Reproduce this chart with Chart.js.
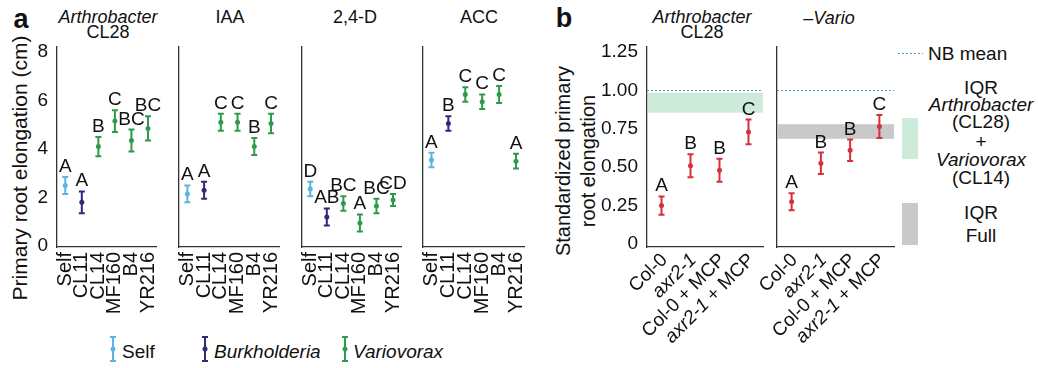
<!DOCTYPE html>
<html>
<head>
<meta charset="utf-8">
<script src="https://cdn.jsdelivr.net/npm/chart.js@4.4.1/dist/chart.umd.min.js"></script>
<style>
  body { margin: 0; background: #fff; width: 1038px; height: 368px; position: relative; overflow: hidden;
         font-family: "Liberation Sans", Arial, sans-serif; color: #111; }
  .box { position: absolute; top: 0; height: 368px; }
  .t { position: absolute; white-space: nowrap; transform: translate(-50%, -50%); line-height: 1; font-size: 18px; }
  .l { position: absolute; white-space: nowrap; transform: translate(0, -50%); line-height: 1; font-size: 19px; }
  .i { font-style: italic; }
  .tag { font-weight: bold; font-size: 27px; }
  .rot { position: absolute; white-space: nowrap; text-align: center; transform: translate(-50%, -50%) rotate(-90deg); }
  svg { position: absolute; overflow: visible; }
</style>
</head>
<body>

<div class="t tag" style="left:21px;top:19px">a</div>
<div class="t tag" style="left:564px;top:18px">b</div>

<div class="t i" style="left:108px;top:17px">Arthrobacter</div>
<div class="t" style="left:108px;top:32px">CL28</div>
<div class="t" style="left:230px;top:17px">IAA</div>
<div class="t" style="left:355px;top:17px">2,4-D</div>
<div class="t" style="left:479px;top:17px">ACC</div>
<div class="t i" style="left:702px;top:17px">Arthrobacter</div>
<div class="t" style="left:702px;top:32px">CL28</div>
<div class="t i" style="left:829px;top:18px">–Vario</div>

<div class="rot" style="left:20px;top:168px;font-size:21px">Primary root elongation (cm)</div>
<div class="rot" style="left:576px;top:161px;font-size:20px;line-height:25px">Standardized primary<br>root elongation</div>

<!-- legend, panel a -->
<svg style="left:0;top:0" width="1" height="1" id="legA"></svg>
<div class="l" style="left:122px;top:351px">Self</div>
<div class="l i" style="left:214px;top:351px">Burkholderia</div>
<div class="l i" style="left:353px;top:351px">Variovorax</div>

<!-- legend, panel b -->
<svg style="left:0;top:0" width="1" height="1">
  <line x1="898" y1="53.5" x2="923" y2="53.5" stroke="#4b9fd0" stroke-width="1" stroke-dasharray="2,2"/>
  <rect x="902" y="118" width="16" height="41" fill="#cdeadb"/>
  <rect x="902" y="203" width="16" height="42" fill="#c9c9c9"/>
</svg>
<div class="l" style="left:928px;top:53px">NB mean</div>
<div class="t" style="left:981px;top:87px;font-size:19px">IQR</div>
<div class="t i" style="left:981px;top:104px;font-size:19px">Arthrobacter</div>
<div class="t" style="left:981px;top:121px;font-size:19px">(CL28)</div>
<div class="t" style="left:981px;top:141px;font-size:19px">+</div>
<div class="t i" style="left:981px;top:159px;font-size:19px">Variovorax</div>
<div class="t" style="left:981px;top:177px;font-size:19px">(CL14)</div>
<div class="t" style="left:981px;top:212px;font-size:19px">IQR</div>
<div class="t" style="left:981px;top:235px;font-size:19px">Full</div>

<script>
// ---- panel a: primary root elongation (cm), mean +/- error per strain ----
const strains = ['Self', 'CL11', 'CL14', 'MF160', 'B4', 'YR216'];
const groups = ['Self', 'Burkholderia', 'Variovorax'];
const groupColors = ['#5bb4df', '#2e2a7f', '#2f9a4d'];
const strainGroup = [0, 1, 2, 2, 2, 2];

const meanCL28 = [2.5, 1.8, 4.1, 5.15, 4.35, 4.85];
const errCL28 = [0.35, 0.45, 0.4, 0.45, 0.45, 0.5];
const lettersCL28 = ['A', 'A', 'B', 'C', 'BC', 'BC'];

const meanIAA = [2.15, 2.3, 5.1, 5.1, 4.1, 5.05];
const errIAA = [0.35, 0.35, 0.35, 0.35, 0.35, 0.4];
const lettersIAA = ['A', 'A', 'C', 'C', 'B', 'C'];

const mean24D = [2.35, 1.2, 1.75, 0.95, 1.65, 1.9];
const err24D = [0.3, 0.35, 0.3, 0.35, 0.3, 0.25];
const letters24D = ['D', 'AB', 'BC', 'A', 'BC', 'CD'];

const meanACC = [3.55, 5.05, 6.25, 5.95, 6.25, 3.5];
const errACC = [0.3, 0.3, 0.3, 0.3, 0.35, 0.3];
const lettersACC = ['A', 'B', 'C', 'C', 'C', 'A'];

const elongTicks = [0, 2, 4, 6, 8];

// ---- panel b: standardized elongation ----
const genotypes = ['Col-0', 'axr2-1', 'Col-0 + MCP', 'axr2-1 + MCP'];
const meanStdCL28 = [0.25, 0.51, 0.48, 0.73];
const errStdCL28 = [0.06, 0.075, 0.075, 0.08];
const lettersStdCL28 = ['A', 'B', 'B', 'C'];
const meanStdVario = [0.275, 0.525, 0.61, 0.765];
const errStdVario = [0.055, 0.07, 0.07, 0.075];
const lettersStdVario = ['A', 'B', 'B', 'C'];
const stdTicks = [0, 0.25, 0.5, 0.75, 1, 1.25];
const stdTickLabels = ['0', '0.25', '0.50', '0.75', '1.00', '1.25'];
const nbMean = 1.0;
const iqrCL28CL14 = [0.855, 0.985];
const iqrFull = [0.685, 0.78];

const FONT = '"Liberation Sans", Arial, sans-serif';
Chart.defaults.font.family = FONT;
Chart.defaults.color = '#111';

const TOP = 47, BOTTOM = 247, PAD = 12;

// error bars, significance letters, reference bands and slanted labels
const marks = {
  id: 'marks',
  beforeDatasetsDraw(chart, args, o) {
    const { ctx, chartArea: a, scales: { y } } = chart;
    ctx.save();
    (o.bands || []).forEach(b => {
      const y1 = y.getPixelForValue(b.range[1]), y0 = y.getPixelForValue(b.range[0]);
      ctx.fillStyle = b.color;
      ctx.fillRect(a.left + 1, y1, a.right - a.left - 1, y0 - y1);
    });
    if (o.nb != null) {
      const yy = Math.round(y.getPixelForValue(o.nb)) + 0.5;
      ctx.strokeStyle = '#4b9fd0';
      ctx.lineWidth = 1;
      ctx.setLineDash([2, 2]);
      ctx.beginPath(); ctx.moveTo(a.left, yy); ctx.lineTo(a.right, yy); ctx.stroke();
    }
    ctx.restore();
  },
  afterDatasetsDraw(chart, args, o) {
    const { ctx, scales: { y } } = chart;
    const d = chart.data.datasets[0].data;
    ctx.save();
    chart.getDatasetMeta(0).data.forEach((pt, i) => {
      const yt = y.getPixelForValue(d[i] + o.err[i]);
      const yb = y.getPixelForValue(d[i] - o.err[i]);
      ctx.strokeStyle = o.colors[i];
      ctx.lineWidth = 2;
      ctx.beginPath();
      ctx.moveTo(pt.x, yt); ctx.lineTo(pt.x, yb);
      ctx.moveTo(pt.x - 3, yt); ctx.lineTo(pt.x + 3, yt);
      ctx.moveTo(pt.x - 3, yb); ctx.lineTo(pt.x + 3, yb);
      ctx.stroke();
      ctx.fillStyle = '#111';
      ctx.font = '19px ' + FONT;
      ctx.textAlign = 'center';
      ctx.textBaseline = 'alphabetic';
      ctx.fillText(o.letters[i], pt.x, yt - 5);
    });
    ctx.restore();
  },
  afterDraw(chart, args, o) {
    if (!o.slanted) return;
    const { ctx, chartArea: a, scales: { x } } = chart;
    chart.data.labels.forEach((lab, i) => {
      const parts = lab.startsWith('axr2-1')
        ? [{ t: 'axr2-1', it: true }, { t: lab.slice(6), it: false }]
        : [{ t: lab, it: false }];
      let total = 0;
      parts.forEach(p => {
        ctx.font = (p.it ? 'italic ' : '') + '19px ' + FONT;
        p.w = ctx.measureText(p.t).width;
        total += p.w;
      });
      ctx.save();
      ctx.translate(x.getPixelForValue(i) + 3, a.bottom + 10);
      ctx.rotate(-Math.PI / 4);
      ctx.fillStyle = '#111';
      ctx.textBaseline = 'middle';
      ctx.textAlign = 'left';
      let cx = -total;
      parts.forEach(p => {
        ctx.font = (p.it ? 'italic ' : '') + '19px ' + FONT;
        ctx.fillText(p.t, cx, 0);
        cx += p.w;
      });
      ctx.restore();
    });
  }
};

function panel(plotL, plotR, cfg) {
  const padL = cfg.padL || PAD;
  const box = document.createElement('div');
  box.className = 'box';
  box.style.left = (plotL - cfg.yw - padL) + 'px';
  box.style.width = (plotR - plotL + cfg.yw + padL + PAD) + 'px';
  const cv = document.createElement('canvas');
  box.appendChild(cv);
  document.body.appendChild(box);
  new Chart(cv, {
    type: 'line',
    data: {
      labels: cfg.labels,
      datasets: [{
        data: cfg.mean, showLine: false,
        pointRadius: 2.5, pointHoverRadius: 2.5, pointBorderWidth: 0,
        pointBackgroundColor: cfg.colors
      }]
    },
    options: {
      responsive: true, maintainAspectRatio: false, animation: false, events: [],
      layout: { padding: { top: TOP, left: padL, right: PAD, bottom: 0 } },
      plugins: {
        legend: { display: false }, tooltip: { enabled: false },
        marks: { err: cfg.err, letters: cfg.letters, colors: cfg.colors, bands: cfg.bands, nb: cfg.nb, slanted: cfg.slanted }
      },
      scales: {
        x: {
          type: 'category', offset: true,
          grid: { display: false, drawTicks: false },
          border: { color: '#333', width: 1.3 },
          ticks: { display: !cfg.slanted, autoSkip: false, minRotation: 90, maxRotation: 90, padding: 5, font: { size: 20 } },
          afterFit(s) { s.height = 368 - BOTTOM; }
        },
        y: {
          min: cfg.min, max: cfg.max,
          grid: { display: false, drawTicks: false },
          border: { color: '#333', width: 1.3 },
          afterBuildTicks(s) { s.ticks = cfg.ticks.map(v => ({ value: v })); },
          ticks: { display: cfg.showY, padding: 9, font: { size: 19 }, callback: (v, i) => cfg.tickLabels[i] },
          afterFit(s) { s.width = cfg.yw; }
        }
      }
    },
    plugins: [marks]
  });
}

const strainColors = strainGroup.map(g => groupColors[g]);
const aBase = { labels: strains, colors: strainColors, min: -0.04, max: 8.206, ticks: elongTicks, tickLabels: elongTicks.map(String) };
panel(57, 166, { ...aBase, mean: meanCL28, err: errCL28, letters: lettersCL28, yw: 40, showY: true });
panel(179, 289, { ...aBase, mean: meanIAA, err: errIAA, letters: lettersIAA, yw: 1, showY: false });
panel(302, 411, { ...aBase, mean: mean24D, err: err24D, letters: letters24D, yw: 1, showY: false });
panel(423, 534, { ...aBase, mean: meanACC, err: errACC, letters: lettersACC, yw: 1, showY: false });

const red = genotypes.map(() => '#d7303c');
const bBase = { labels: genotypes, colors: red, min: -0.0195, max: 1.2826, ticks: stdTicks, tickLabels: stdTickLabels, slanted: true, nb: nbMean };
panel(647, 763, { ...bBase, mean: meanStdCL28, err: errStdCL28, letters: lettersStdCL28, yw: 50, showY: true,
  bands: [{ range: iqrCL28CL14, color: '#cdeadb' }] });
panel(777, 894, { ...bBase, mean: meanStdVario, err: errStdVario, letters: lettersStdVario, yw: 1, showY: false, padL: 50,
  bands: [{ range: iqrFull, color: '#c9c9c9' }] });

// legend icons for panel a (small error-bar glyphs)
const legX = [113, 205, 345];
const svg = document.getElementById('legA');
legX.forEach((lx, g) => {
  const c = groupColors[g];
  svg.innerHTML += `<line x1="${lx}" y1="337" x2="${lx}" y2="361" stroke="${c}" stroke-width="2"/>` +
    `<line x1="${lx - 3}" y1="337" x2="${lx + 3}" y2="337" stroke="${c}" stroke-width="2"/>` +
    `<line x1="${lx - 3}" y1="361" x2="${lx + 3}" y2="361" stroke="${c}" stroke-width="2"/>` +
    `<circle cx="${lx}" cy="349" r="2.5" fill="${c}"/>`;
});
</script>
</body>
</html>
